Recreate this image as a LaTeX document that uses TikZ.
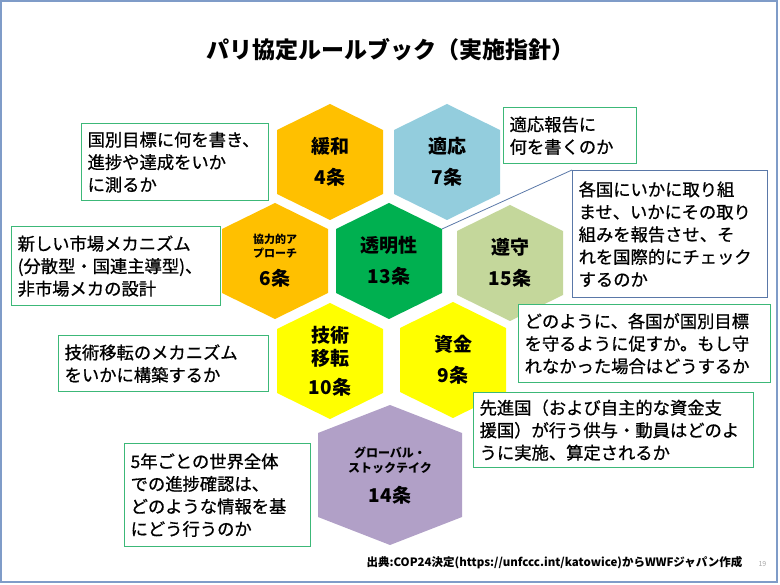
\documentclass[tikz,border=0pt]{standalone}
\usepackage{fontspec}
\setmainfont{Noto Sans CJK JP}
\newfontfamily\notefont{Noto Sans CJK JP}[FakeBold=0.8]
\usetikzlibrary{positioning}

\definecolor{hexorange}{HTML}{FFC000}
\definecolor{hexblue}{HTML}{93CDDD}
\definecolor{hexgreen}{HTML}{00B050}
\definecolor{hexolive}{HTML}{C4D79B}
\definecolor{hexyellow}{HTML}{FFFF00}
\definecolor{hexpurple}{HTML}{B1A0C7}
\definecolor{boxgreen}{HTML}{3CB878}
\definecolor{boxblue}{HTML}{5A78A8}
\definecolor{framecol}{HTML}{7F9CC8}

\tikzset{
  notebox/.style={draw=boxgreen, line width=1.3pt, fill=white, anchor=north west,
    align=left, inner sep=6pt, font=\notefont\fontsize{17.3}{22.5}\selectfont},
  hexlabel/.style={font=\bfseries\fontsize{19}{31}\selectfont, align=center},
  smalllabel/.style={font=\bfseries\fontsize{11}{14}\selectfont, align=center}
}

\begin{document}
\begin{tikzpicture}[x=1pt,y=-1pt]

\useasboundingbox (0,0) rectangle (780,585);
\draw[framecol, line width=1.2pt] (1,1) rectangle (777,582);

\node[font=\bfseries\fontsize{23}{28}\selectfont] (title) at (390,50) {パリ協定ルールブック（実施指針）};

% hexagon cells
\foreach \n/\x/\y/\c in {mitig/330/162/hexorange, adapt/447/162/hexblue,
    coop/275/261/hexorange, trans/389/261/hexgreen, compl/510/263/hexolive,
    techt/330/361/hexyellow, finan/453/360/hexyellow}
  {
  \fill[\c] (\x,\y) ++(0,-58) -- ++(53,26) -- ++(0,64) -- ++(-53,26)
    -- ++(-53,-26) -- ++(0,-64) -- cycle;
  \coordinate (\n) at (\x,\y);
  \coordinate (\n-ne) at (\x+53,\y-32);
  }
\fill[hexpurple] (390,475) ++(0,-70) -- ++(72,28) -- ++(0,84) -- ++(-72,28)
  -- ++(-72,-28) -- ++(0,-84) -- cycle;
\coordinate (gst) at (390,475);

% labels in the cells
\node[hexlabel] (mitiglabel) at (mitig) {緩和\\4条};
\node[hexlabel] (adaptlabel) at (adapt) {適応\\7条};
\node[hexlabel] (translabel) at (trans) {透明性\\13条};
\node[hexlabel] (compllabel) at (compl) {遵守\\15条};
\node[hexlabel] (finanlabel) at (finan) {資金\\9条};
\node[hexlabel, font=\bfseries\fontsize{19}{23}\selectfont] (techtlabel) at (techt) {技術\\移転\\[6pt]10条};
\node[smalllabel] (coopname) at (275,246) {協力的ア\\プローチ};
\node[hexlabel] (coopnum) at (275,278) {6条};
\node[smalllabel, font=\bfseries\fontsize{12}{15}\selectfont] (gstname) at (390,460) {グローバル・\\ストックテイク};
\node[hexlabel] (gstnum) at (390,495) {14条};

% notes
\node[notebox, text width=175pt, minimum height=77pt] (mitignote) at (81,123)
  {国別目標に何を書き、\\進捗や達成をいか\\に測るか};
\node[notebox, text width=121pt, minimum height=56pt] (adaptnote) at (503,107)
  {適応報告に\\何を書くのか};
\node[notebox, draw=boxblue, text width=183pt, minimum height=127pt] (transnote) at (572,170)
  {各国にいかに取り組\\ませ、いかにその取り\\組みを報告させ、そ\\れを国際的にチェック\\するのか};
\node[notebox, text width=197pt, minimum height=79pt] (coopnote) at (11,226)
  {新しい市場メカニズム\\(分散型・国連主導型)、\\非市場メカの設計};
\node[notebox, text width=198pt, minimum height=56pt] (techtnote) at (58,335)
  {技術移転のメカニズム\\をいかに構築するか};
\node[notebox, text width=240pt, minimum height=78pt] (complnote) at (518,304)
  {どのように、各国が国別目標\\を守るように促すか。もし守\\れなかった場合はどうするか};
\node[notebox, text width=268pt, minimum height=75pt] (finannote) at (473,392)
  {先進国（および自主的な資金支\\援国）が行う供与・動員はどのよ\\うに実施、算定されるか};
\node[notebox, text width=174pt, minimum height=103pt] (gstnote) at (124,443)
  {5年ごとの世界全体\\での進捗確認は、\\どのような情報を基\\にどう行うのか};

\draw[boxblue, line width=0.8pt] (trans-ne) -- (transnote.north west);

% source line
\node[font=\bfseries\fontsize{11.5}{13}\selectfont, anchor=east] (source) at (746,563)
  {出典:COP24決定(https://unfccc.int/katowice)からWWFジャパン作成};
\node[font=\fontsize{7}{8}\selectfont, text=gray!70, anchor=west] (pagenum) at (755,564) {19};

\end{tikzpicture}
\end{document}
